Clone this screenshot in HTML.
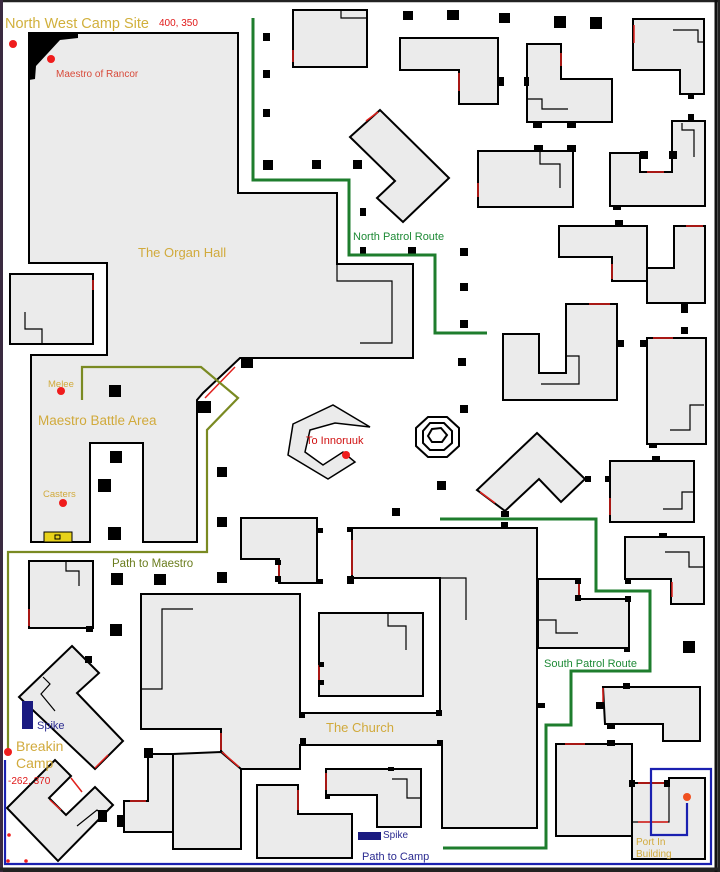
<!DOCTYPE html>
<html><head><meta charset="utf-8"><style>
html,body{margin:0;padding:0;background:#fff}
svg{display:block}
text{font-family:"Liberation Sans",sans-serif}
</style></head><body>
<svg width="720" height="872" viewBox="0 0 720 872" xmlns="http://www.w3.org/2000/svg">
<rect x="0" y="0" width="720" height="872" fill="#fff"/>
<g fill="#ebebeb" stroke="#000" stroke-width="2" stroke-linejoin="miter">
<!-- Organ hall + maestro area -->
<polygon points="29,33 238,33 238,193 337,193 337,264 413,264 413,358 240,358 203,393 197,400 197,542 143,542 143,443 90,443 90,542 31,542 31,355 107,355 107,263 29,263"/>
<!-- small left room -->
<polygon points="10,274 93,274 93,344 10,344"/>
<!-- top buildings -->
<polygon points="293,10 367,10 367,67 293,67"/>
<polygon points="400,38 498,38 498,104 459,104 459,70 400,70"/>
<polygon points="527,44 561,44 561,79 612,79 612,122 527,122"/>
<polygon points="633,19 704,19 704,94 680,94 680,70 633,70"/>
<polygon points="350,137 380,110 449,178 403,222 377,198 395,181"/>
<polygon points="478,151 573,151 573,207 478,207"/>
<polygon points="610,153 640,153 640,172 672,172 672,121 705,121 705,206 610,206"/>
<polygon points="559,226 647,226 647,281 612,281 612,257 559,257"/>
<polygon points="647,268 674,268 674,226 705,226 705,303 647,303"/>
<polygon points="503,334 539,334 539,373 566,373 566,304 617,304 617,400 503,400"/>
<polygon points="647,338 706,338 706,444 647,444"/>
<!-- Innoruuk -->
<polygon points="293,424 333,405 370,427 335,423 310,430 305,452 323,465 343,452 355,462 328,479 288,455" stroke-width="1.5"/>
<!-- right center -->
<polygon points="537,433 585,479 561,502 539,479 505,511 477,490"/>
<polygon points="610,461 694,461 694,522 610,522"/>
<polygon points="625,537 704,537 704,604 671,604 671,579 625,579"/>
<polygon points="538,579 579,579 579,599 629,599 629,648 538,648"/>
<polygon points="603,687 700,687 700,741 663,741 663,724 605,724"/>
<polygon points="556,744 632,744 632,836 556,836"/>
<polygon points="632,783 669,783 669,778 705,778 705,859 632,859"/>
<!-- left middle -->
<polygon points="241,518 317,518 317,583 279,583 279,559 241,559"/>
<polygon points="29,561 93,561 93,628 29,628"/>
<!-- Church -->
<polygon points="352,528 537,528 537,828 442,828 442,745 300,745 300,769 239,769 221,751 221,729 141,729 141,594 300,594 300,713 440,713 440,578 352,578"/>
<polygon points="319,613 423,613 423,696 319,696"/>
<!-- bottom left diamonds -->
<polygon points="72,646 99,673 77,693 123,741 95,769 19,697"/>
<polygon points="7,808 55,760 71,776 49,798 66,815 95,787 113,805 58,861"/>
<!-- bottom buildings -->
<polygon points="124,801 148,801 148,754 173,754 173,832 124,832"/>
<polygon points="173,754 221,752 241,769 241,849 173,849"/>
<polygon points="257,785 298,785 298,814 352,814 352,858 257,858"/>
<polygon points="326,769 421,769 421,827 377,827 377,795 326,795"/>
</g>
<!-- octagons -->
<g fill="none" stroke="#000" stroke-width="2">
<polygon points="428,417 447,417 459,428 459,446 447,457 428,457 416,446 416,428"/>
<polygon points="430,423 444,423 452,431 452,443 444,450 430,450 423,443 423,431"/>
<polygon points="432,429 441,428 447,435 442,442 432,442 428,436"/>
</g>
<!-- inner lines -->
<g fill="none" stroke="#000" stroke-width="1.2">
<polyline points="25,312 25,329 42,329 42,344"/>
<polyline points="341,10 341,18 367,18"/>
<polyline points="337,264 337,281 360,281"/>
<polyline points="360,281 392,281 392,343 360,343"/>
<polyline points="527,99 542,99 542,109 568,109"/>
<polyline points="673,30 698,30 698,42 704,42"/>
<polyline points="540,151 540,164 560,164 560,188"/>
<polyline points="682,123 682,130 694,130 694,157"/>
<polyline points="566,356 579,356 579,384 541,384"/>
<polyline points="670,430 690,430 690,405 704,405"/>
<polyline points="663,509 682,509 682,492 694,492"/>
<polyline points="665,552 689,552 689,567 704,567"/>
<polyline points="66,561 66,571 79,571 79,586"/>
<polyline points="193,609 162,609 162,689 141,689"/>
<polyline points="440,578 466,578 466,620"/>
<polyline points="388,613 388,626 406,626 406,650"/>
<polyline points="538,620 556,620 556,633 578,633"/>
<polyline points="43,677 50,684 41,694 55,711"/>
<polyline points="77,826 97,810 102,814"/>
<polyline points="392,779 407,779 407,798 421,798"/>
<polyline points="669,778 669,822 632,822"/>
</g>
<!-- black corner -->
<polygon points="29,33 78,33 78,38 60,40 36,66 35,79 29,80" fill="#000"/>
<!-- red doors -->
<g stroke="#e0201c" stroke-width="1.5" fill="none">
<line x1="93" y1="280" x2="93" y2="290"/>
<line x1="293" y1="50" x2="293" y2="62"/>
<line x1="459" y1="73" x2="459" y2="91"/>
<line x1="561" y1="53" x2="561" y2="66"/>
<line x1="634" y1="25" x2="634" y2="43"/>
<line x1="366" y1="121" x2="378" y2="112"/>
<line x1="478" y1="183" x2="478" y2="197"/>
<line x1="647" y1="172" x2="664" y2="172"/>
<line x1="612" y1="264" x2="612" y2="279"/>
<line x1="686" y1="226" x2="703" y2="226"/>
<line x1="589" y1="304" x2="610" y2="304"/>
<line x1="653" y1="338" x2="673" y2="338"/>
<line x1="205" y1="398" x2="235" y2="367"/>
<line x1="480" y1="492" x2="495" y2="503"/>
<line x1="610" y1="498" x2="610" y2="515"/>
<line x1="672" y1="582" x2="672" y2="597"/>
<line x1="579" y1="581" x2="579" y2="597"/>
<line x1="603" y1="688" x2="603" y2="705"/>
<line x1="565" y1="744" x2="585" y2="744"/>
<line x1="638" y1="783" x2="668" y2="783"/>
<line x1="638" y1="822" x2="668" y2="822"/>
<line x1="279" y1="562" x2="279" y2="577"/>
<line x1="352" y1="540" x2="352" y2="575"/>
<line x1="29" y1="609" x2="29" y2="626"/>
<line x1="319" y1="665" x2="319" y2="680"/>
<line x1="221" y1="733" x2="221" y2="750"/>
<line x1="222" y1="752" x2="239" y2="767"/>
<line x1="95" y1="768" x2="108" y2="755"/>
<line x1="71" y1="778" x2="82" y2="792"/>
<line x1="50" y1="800" x2="61" y2="810"/>
<line x1="130" y1="801" x2="146" y2="801"/>
<line x1="298" y1="790" x2="298" y2="810"/>
<line x1="326" y1="773" x2="326" y2="790"/>
</g>
<!-- black blocks -->
<g fill="#000">
<rect x="403" y="11" width="10" height="9"/><rect x="447" y="10" width="12" height="10"/><rect x="499" y="13" width="11" height="10"/><rect x="554" y="16" width="12" height="12"/><rect x="590" y="17" width="12" height="12"/>
<rect x="263" y="33" width="7" height="8"/><rect x="263" y="70" width="7" height="8"/><rect x="263" y="109" width="7" height="8"/>
<rect x="263" y="160" width="10" height="10"/><rect x="312" y="160" width="9" height="9"/><rect x="353" y="160" width="9" height="9"/>
<rect x="360" y="208" width="6" height="8"/><rect x="360" y="247" width="6" height="8"/><rect x="408" y="247" width="8" height="8"/>
<rect x="460" y="248" width="8" height="8"/><rect x="460" y="283" width="8" height="8"/><rect x="460" y="320" width="8" height="8"/><rect x="458" y="358" width="8" height="8"/><rect x="460" y="405" width="8" height="8"/>
<rect x="498" y="77" width="6" height="9"/><rect x="524" y="77" width="5" height="9"/><rect x="533" y="122" width="9" height="6"/><rect x="567" y="122" width="9" height="6"/>
<rect x="688" y="94" width="6" height="5"/><rect x="534" y="145" width="9" height="7"/><rect x="567" y="145" width="9" height="7"/>
<rect x="640" y="151" width="8" height="8"/><rect x="669" y="151" width="8" height="8"/><rect x="688" y="114" width="6" height="7"/><rect x="613" y="206" width="8" height="4"/>
<rect x="615" y="220" width="8" height="6"/><rect x="681" y="303" width="7" height="10"/><rect x="618" y="340" width="6" height="7"/><rect x="640" y="340" width="7" height="7"/><rect x="681" y="327" width="7" height="7"/>
<rect x="649" y="444" width="8" height="4"/><rect x="652" y="456" width="8" height="6"/><rect x="605" y="476" width="6" height="6"/><rect x="585" y="476" width="6" height="6"/>
<rect x="683" y="641" width="12" height="12"/><rect x="659" y="533" width="8" height="5"/>
<rect x="241" y="357" width="12" height="11"/><rect x="198" y="401" width="13" height="12"/>
<rect x="109" y="385" width="12" height="12"/>
<rect x="110" y="451" width="12" height="12"/><rect x="98" y="479" width="13" height="13"/><rect x="108" y="527" width="13" height="13"/>
<rect x="217" y="467" width="10" height="10"/><rect x="217" y="517" width="10" height="10"/>
<rect x="111" y="573" width="12" height="12"/><rect x="154" y="574" width="12" height="11"/><rect x="217" y="572" width="10" height="11"/><rect x="110" y="624" width="12" height="12"/>
<rect x="437" y="481" width="9" height="9"/><rect x="392" y="508" width="8" height="8"/>
<rect x="501" y="511" width="8" height="6"/><rect x="501" y="522" width="7" height="6"/>
<rect x="347" y="527" width="6" height="5"/><rect x="347" y="576" width="7" height="8"/><rect x="317" y="528" width="6" height="5"/><rect x="317" y="579" width="6" height="5"/>
<rect x="275" y="560" width="6" height="5"/><rect x="275" y="576" width="6" height="6"/>
<rect x="86" y="626" width="7" height="6"/><rect x="85" y="656" width="7" height="7"/>
<rect x="299" y="712" width="6" height="6"/><rect x="300" y="738" width="6" height="7"/>
<rect x="436" y="710" width="6" height="6"/><rect x="437" y="740" width="6" height="6"/>
<rect x="537" y="703" width="8" height="5"/><rect x="575" y="578" width="6" height="6"/><rect x="575" y="595" width="6" height="6"/><rect x="624" y="647" width="6" height="5"/>
<rect x="625" y="578" width="6" height="6"/><rect x="625" y="596" width="6" height="6"/>
<rect x="623" y="683" width="7" height="6"/><rect x="596" y="702" width="8" height="7"/><rect x="607" y="723" width="8" height="6"/><rect x="607" y="740" width="8" height="6"/>
<rect x="629" y="780" width="6" height="7"/><rect x="664" y="780" width="6" height="7"/>
<rect x="319" y="662" width="5" height="5"/><rect x="319" y="680" width="5" height="5"/>
<rect x="144" y="748" width="9" height="10"/><rect x="98" y="810" width="9" height="12"/><rect x="117" y="815" width="7" height="12"/>
<rect x="325" y="795" width="5" height="4"/><rect x="388" y="767" width="6" height="4"/>
</g>
<!-- yellow box -->
<rect x="44" y="532" width="28" height="10" fill="#e8d21a" stroke="#000" stroke-width="1"/>
<rect x="55" y="535" width="5" height="4" fill="none" stroke="#000" stroke-width="1"/>
<!-- spikes -->
<rect x="22" y="701" width="11" height="28" fill="#1a1a80"/>
<rect x="358" y="832" width="23" height="8" fill="#1a1a80"/>
<!-- routes -->
<g fill="none" stroke-width="3">
<polyline stroke="#1e7d2d" points="253,18 253,180 349,180 349,255 435,255 435,333 487,333"/>
<polyline stroke="#1e7d2d" points="440,519 596,519 596,591 650,591 650,671 571,671 571,725 546,725 546,848 443,848"/>
</g>
<g fill="none" stroke="#7a8a22" stroke-width="2.2">
<polyline points="82,400 82,367 201,367 238,398 207,430 207,552 8,552 8,749"/>
</g>
<g fill="none" stroke="#1a20b0" stroke-width="2.2">
<polyline points="5,760 5,864 711,864 711,769 651,769 651,835 687,835 687,803"/>
</g>
<!-- dots -->
<g fill="#ef1c1c">
<circle cx="13" cy="44" r="4"/><circle cx="51" cy="59" r="4"/><circle cx="61" cy="391" r="4"/><circle cx="63" cy="503" r="4"/><circle cx="346" cy="455" r="4"/><circle cx="8" cy="752" r="4"/><circle cx="687" cy="797" r="4" fill="#f05020"/>
<circle cx="9" cy="835" r="1.8"/><circle cx="8" cy="861" r="1.8"/><circle cx="26" cy="861" r="1.8"/>
</g>
<!-- frame -->
<rect x="1" y="1" width="718" height="870" fill="none" stroke="#222" stroke-width="2.5"/>
<line x1="716" y1="0" x2="716" y2="872" stroke="#111" stroke-width="3"/>
<line x1="1.5" y1="0" x2="1.5" y2="872" stroke="#3a2a40" stroke-width="3"/>
<line x1="0" y1="869" x2="720" y2="869" stroke="#222" stroke-width="3"/>
<!-- labels -->
<text x="5" y="28" font-size="14.5" fill="#d1b03c">North West Camp Site</text>
<text x="159" y="26" font-size="10" fill="#e01818">400, 350</text>
<text x="56" y="77" font-size="10" fill="#d84a3a">Maestro of Rancor</text>
<text x="353" y="240" font-size="11" fill="#1e8a36">North Patrol Route</text>
<text x="138" y="257" font-size="13" fill="#d1aa3c">The Organ Hall</text>
<text x="48" y="387" font-size="9.5" fill="#d1aa3c">Melee</text>
<text x="38" y="425" font-size="13.5" fill="#d1aa3c">Maestro Battle Area</text>
<text x="43" y="497" font-size="9.5" fill="#d1aa3c">Casters</text>
<text x="112" y="567" font-size="11.5" fill="#6b7d1e">Path to Maestro</text>
<text x="306" y="444" font-size="11" fill="#d01010">To Innoruuk</text>
<text x="544" y="667" font-size="11" fill="#1e8a36">South Patrol Route</text>
<text x="326" y="732" font-size="13" fill="#d1aa3c">The Church</text>
<text x="37" y="729" font-size="11" fill="#2a2a90">Spike</text>
<text x="383" y="838" font-size="10" fill="#2a2a90">Spike</text>
<text x="16" y="751" font-size="14" fill="#d1aa3c">Breakin</text>
<text x="16" y="768" font-size="14" fill="#d1aa3c">Camp</text>
<text x="8" y="784" font-size="10" fill="#e01818">-262, 370</text>
<text x="362" y="860" font-size="11" fill="#2a2a90">Path to Camp</text>
<text x="636" y="845" font-size="10" fill="#d1aa3c">Port In</text>
<text x="636" y="857" font-size="10" fill="#d1aa3c">Building</text>
</svg>
</body></html>
